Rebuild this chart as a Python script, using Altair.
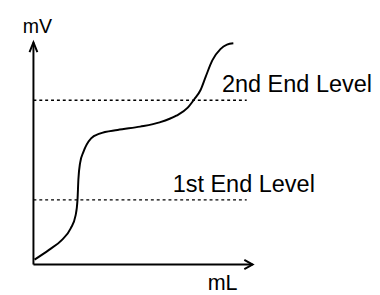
import altair as alt
import pandas as pd

# Titration curve (arbitrary units: mL on x, mV on y)
curve_ml = [0.05, 0.71, 1.29, 1.70, 1.92, 2.01, 2.05, 2.13, 2.28, 2.63, 3.02, 3.84,
            4.87, 5.76, 6.52, 7.04, 7.33, 7.63, 7.86, 8.16, 8.53, 8.83, 9.12]
curve_mv = [0.22, 0.66, 1.10, 1.63, 2.20, 2.91, 3.83, 4.58, 5.07, 5.68, 5.89, 6.06,
            6.21, 6.40, 6.70, 7.06, 7.43, 7.87, 8.46, 9.19, 9.70, 9.90, 9.96]

# End levels
level_names = ["2nd End Level", "1st End Level"]
level_mv = [7.40, 2.91]
level_end_ml = 9.73
level_label_ml = [8.60, 6.35]
level_label_mv = [7.75, 3.26]

# Axes
axis_len = 10.0
axis_titles = ["mV", "mL"]
axis_title_x = [-0.49, 7.95]
axis_title_y = [10.44, -1.15]
axis_title_size = [20, 22]

XDOM = [-1.161, 15.446]
YDOM = [-1.233, 11.41]
FONT = "Liberation Sans"

xs = alt.Scale(domain=XDOM, nice=False, zero=False)
ys = alt.Scale(domain=YDOM, nice=False, zero=False)

axes_df = pd.DataFrame({"x": [0, 0], "y": [0, 0], "x2": [0, axis_len], "y2": [axis_len, 0]})
axes = alt.Chart(axes_df).mark_rule(color="black", strokeWidth=2).encode(
    x=alt.X("x:Q", scale=xs, axis=None),
    y=alt.Y("y:Q", scale=ys, axis=None),
    x2="x2:Q", y2="y2:Q",
)

yarrow = alt.Chart(pd.DataFrame({"x": [0], "y": [axis_len]})).mark_point(
    shape="M -0.4 1 L 0 0 L 0.4 1", size=400, filled=False, color="black",
    strokeWidth=2, opacity=1,
).encode(x=alt.X("x:Q", scale=xs, axis=None), y=alt.Y("y:Q", scale=ys, axis=None))

xarrow = alt.Chart(pd.DataFrame({"x": [axis_len], "y": [0]})).mark_point(
    shape="M -0.85 -0.47 L 0 0 L -0.85 0.47", size=400, filled=False, color="black",
    strokeWidth=2, opacity=1,
).encode(x=alt.X("x:Q", scale=xs, axis=None), y=alt.Y("y:Q", scale=ys, axis=None))

levels_df = pd.DataFrame({"name": level_names, "y": level_mv,
                          "x": [0, 0], "x2": [level_end_ml] * 2,
                          "lx": level_label_ml, "ly": level_label_mv})
dashes = alt.Chart(levels_df).mark_rule(color="black", strokeWidth=1.5, strokeDash=[3, 3]).encode(
    x=alt.X("x:Q", scale=xs, axis=None), x2="x2:Q",
    y=alt.Y("y:Q", scale=ys, axis=None),
)
level_text = alt.Chart(levels_df).mark_text(
    align="left", baseline="alphabetic", font=FONT, fontSize=24, color="black"
).encode(
    x=alt.X("lx:Q", scale=xs, axis=None), y=alt.Y("ly:Q", scale=ys, axis=None), text="name:N"
)

curve = alt.Chart(pd.DataFrame({"ml": curve_ml, "mv": curve_mv})).mark_line(
    color="black", strokeWidth=2, interpolate="monotone"
).encode(
    x=alt.X("ml:Q", scale=xs, axis=None), y=alt.Y("mv:Q", scale=ys, axis=None)
)

titles_df = pd.DataFrame({"t": axis_titles, "x": axis_title_x, "y": axis_title_y, "s": axis_title_size})
titles = alt.Chart(titles_df).mark_text(
    align="left", baseline="alphabetic", font=FONT, color="black"
).encode(
    x=alt.X("x:Q", scale=xs, axis=None), y=alt.Y("y:Q", scale=ys, axis=None), text="t:N",
    size=alt.Size("s:Q", scale=None, legend=None),
)

chart = alt.layer(axes, dashes, curve, yarrow, xarrow, level_text, titles).properties(
    width=372, height=287, padding=0, autosize=alt.AutoSizeParams(type="none"),
    background="white",
).configure_view(stroke=None)

chart.save("out.html", embed_options={"renderer": "svg", "actions": False})
